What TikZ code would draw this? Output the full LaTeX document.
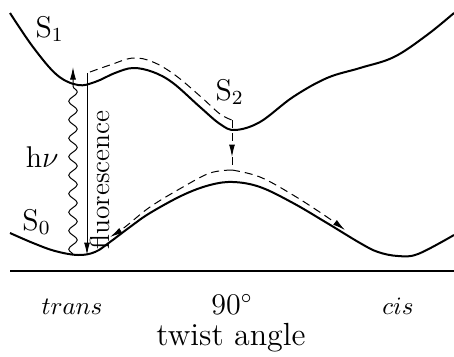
\documentclass[tikz,border=0pt]{standalone}
\usepackage{amsmath}
\usepackage{tikz}
\usetikzlibrary{arrows.meta,positioning,decorations.pathmorphing}

\begin{document}
\begin{tikzpicture}[x=0.4pt,y=0.4pt,font=\large,
    pes/.style={line width=0.8pt},
    path/.style={dash pattern=on 3.2pt off 2pt},
    tip/.style={-{Latex[length=5pt,width=2.4pt]}},
    lbl/.style={inner sep=0pt}]
  \useasboundingbox (0,0) rectangle (454,356);
  % potential energy surfaces
  \draw[pes] plot[smooth,tension=0.6] coordinates {(10,343) (33,309) (57,281) (78,271) (95,274)
     (115,283) (133,288) (153,284) (173,273) (200,249) (220,232) (235,226) (260,234)
     (293,259) (327,278) (360,288) (394,299) (427,321) (454,343)};
  \draw[pes] plot[smooth,tension=0.6] coordinates {(10,123) (33,113) (55,105) (78,101) (95,104)
     (110,114) (130,129) (150,143) (183,161) (210,171) (233,174) (260,169) (293,153)
     (327,133) (360,113) (378,104) (398,100) (418,102) (454,121)};
  \draw[pes] (10,85) -- (454,85);
  % end points
  \coordinate (gs) at (73,101);
  \coordinate (fc) at (73,289);
  \coordinate (fltop) at (87,283);
  \coordinate (flbot) at (87,101);
  \coordinate (ci) at (232,199);
  \coordinate (cibot) at (232,186);
  % labels
  \node[lbl,anchor=base west] (s1) at (35,319) {S$_1$};
  \node[lbl,anchor=base west] (s2) at (215,256) {S$_2$};
  \node[lbl,anchor=base west] (s0) at (22,126) {S$_0$};
  \node[lbl,anchor=base east] (hnu) at (59,189) {h$\nu$};
  \node[anchor=base] (trans) at (72,42) {\normalsize$trans$};
  \node[anchor=base] (perp) at (232,42) {$90^\circ$};
  \node[anchor=base] (cis) at (398,42) {\normalsize$cis$};
  \node[anchor=base,font=\fontsize{12.8}{15}\selectfont] (axis) at (231,11) {twist angle};
  % absorption and emission
  \draw[tip,decorate,decoration={snake,amplitude=1.7pt,segment length=7.4pt,post length=5pt}]
     (gs) -- (fc);
  \draw[tip] (fltop) -- (flbot);
  \node[lbl,rotate=90,font=\fontsize{11}{13}\selectfont] (fl) at (100,176) {fluorescence};
  % relaxation paths
  \draw[path] plot[smooth,tension=0.6] coordinates {(90,284) (110,291) (133,298) (153,294)
     (175,281) (200,260) (220,242) (232,236)};
  \draw[path,tip] (232,236) -- (ci);
  \draw[path] (ci) -- (cibot);
  \draw[path,tip] plot[smooth,tension=0.6] coordinates {(232,186) (210,183) (183,169)
     (150,149) (125,129) (110,119)};
  \draw[path,tip] plot[smooth,tension=0.6] coordinates {(232,186) (260,179) (293,161)
     (327,139) (345,126)};
\end{tikzpicture}
\end{document}
